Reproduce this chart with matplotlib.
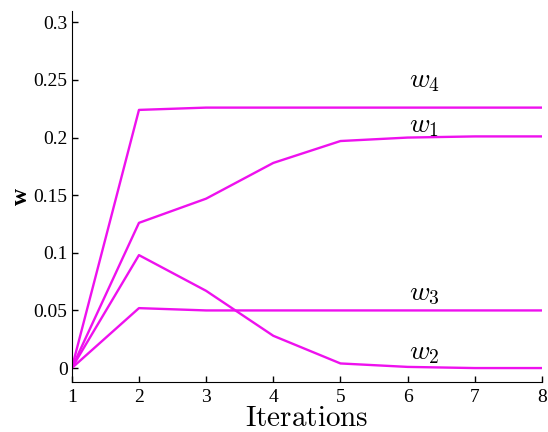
import numpy as np
import matplotlib
matplotlib.use("Agg")
import matplotlib.pyplot as plt

plt.rcParams['mathtext.fontset'] = 'cm'

# Weights per iteration
iterations = [1, 2, 3, 4, 5, 6, 7, 8]
w1 = [0.0, 0.126, 0.147, 0.178, 0.197, 0.200, 0.201, 0.201]
w2 = [0.0, 0.098, 0.067, 0.028, 0.004, 0.001, 0.0, 0.0]
w3 = [0.0, 0.052, 0.050, 0.050, 0.050, 0.050, 0.050, 0.050]
w4 = [0.0, 0.224, 0.226, 0.226, 0.226, 0.226, 0.226, 0.226]

series = [w4, w1, w3, w2]
labels = [r'$w_4$', r'$w_1$', r'$w_3$', r'$w_2$']
label_y = [0.250, 0.211, 0.065, 0.014]

fig = plt.figure(figsize=(5.48, 4.32), dpi=100)
ax = fig.add_axes([0.131, 0.116, 0.858, 0.859])

for s in series:
    ax.plot(iterations, s, color='#ee11ee', linewidth=1.7)

for lab, ly in zip(labels, label_y):
    ax.text(6.25, ly, lab, fontsize=20, ha='center', va='center')

ax.set_xlim(1, 8)
ax.set_ylim(-0.012, 0.31)
ax.set_xticks(iterations)
ax.set_yticks([0, 0.05, 0.1, 0.15, 0.2, 0.25, 0.3])
ax.set_yticklabels(['0', '0.05', '0.1', '0.15', '0.2', '0.25', '0.3'])
for t in ax.get_xticklabels() + ax.get_yticklabels():
    t.set_family('Liberation Serif')
    t.set_fontsize(14)
ax.tick_params(direction='in', length=4, width=1, pad=3)
ax.tick_params(axis='x', pad=5)

ax.spines['top'].set_visible(False)
ax.spines['right'].set_visible(False)

ax.set_xlabel(r'$\mathrm{Iterations}$', fontsize=21, labelpad=-1)
ax.set_ylabel('w', fontsize=17, fontweight='bold', family='Liberation Serif', labelpad=1)

fig.savefig('out.png', dpi=100)
